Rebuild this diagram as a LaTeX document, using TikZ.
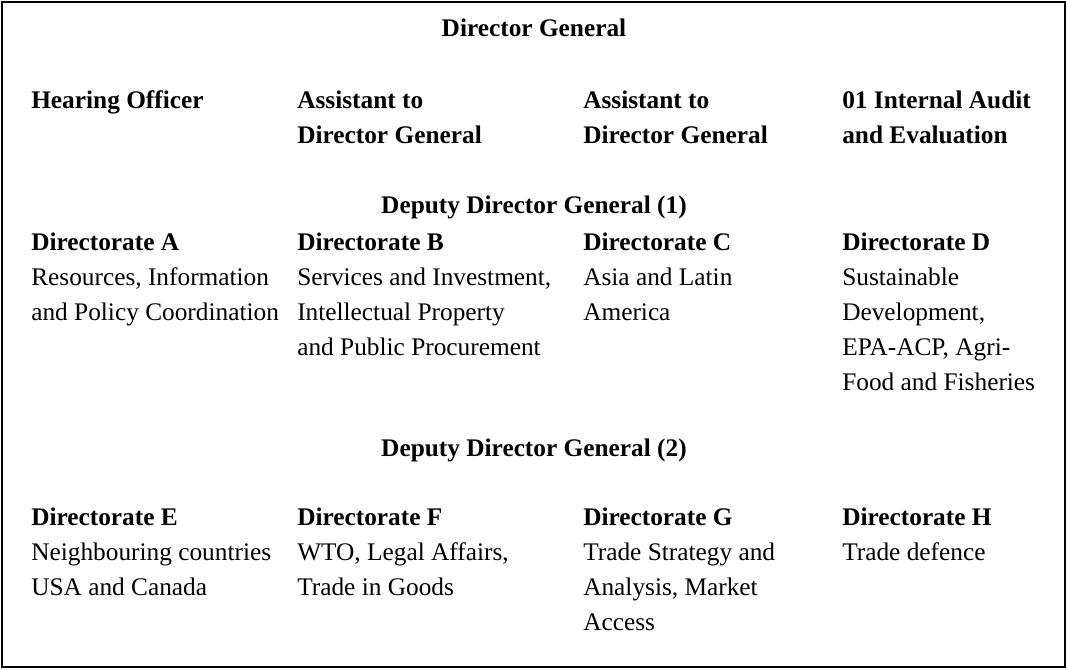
\documentclass[tikz,border=0pt]{standalone}
\usepackage{fontspec}
\setmainfont{Liberation Serif}

% lines of one cell, first baseline on top
\newcommand{\cellstack}[1]{\begin{tabular}[t]{@{}l@{}}#1\end{tabular}}

\begin{document}
\begin{tikzpicture}[x=0.75pt,y=0.75pt,yscale=-1,xscale=1,
  cell/.style={anchor=base west,inner sep=0pt,
    font=\fontsize{19}{26.25}\selectfont},
  head/.style={anchor=base,inner sep=0pt,
    font=\bfseries\fontsize{19}{26.25}\selectfont}]
\useasboundingbox (0,0) rectangle (1067,670);

%Frame
\draw [line width=1.5] (2,2) rectangle (1065,667) ;

% Top level
\node [head] (dg) at (534,37) {Director General};

% Staff row
\node [cell] (ho) at (31,109) {\textbf{Hearing Officer}};
\node [cell] (adgA) at (297,109) {\cellstack{\textbf{Assistant to}\\\textbf{Director General}}};
\node [cell] (adgB) at (583,109) {\cellstack{\textbf{Assistant to}\\\textbf{Director General}}};
\node [cell] (iae) at (842,109) {\cellstack{\textbf{01 Internal Audit}\\\textbf{and Evaluation}}};

% Deputy 1
\node [head] (ddgA) at (534,214) {Deputy Director General (1)};

\node [cell] (dirA) at (31,251) {\cellstack{\textbf{Directorate A}\\Resources, Information\\and Policy Coordination}};
\node [cell] (dirB) at (297,251) {\cellstack{\textbf{Directorate B}\\Services and Investment,\\Intellectual Property\\and Public Procurement}};
\node [cell] (dirC) at (583,251) {\cellstack{\textbf{Directorate C}\\Asia and Latin\\America}};
\node [cell] (dirD) at (842,251) {\cellstack{\textbf{Directorate D}\\Sustainable\\Development,\\EPA-ACP, Agri-\\Food and Fisheries}};

% Deputy 2
\node [head] (ddgB) at (534,456) {Deputy Director General (2)};

\node [cell] (dirE) at (31,525) {\cellstack{\textbf{Directorate E}\\Neighbouring countries\\USA and Canada}};
\node [cell] (dirF) at (297,525) {\cellstack{\textbf{Directorate F}\\WTO, Legal Affairs,\\Trade in Goods}};
\node [cell] (dirG) at (583,525) {\cellstack{\textbf{Directorate G}\\Trade Strategy and\\Analysis, Market\\Access}};
\node [cell] (dirH) at (842,525) {\cellstack{\textbf{Directorate H}\\Trade defence}};

\end{tikzpicture}
\end{document}
